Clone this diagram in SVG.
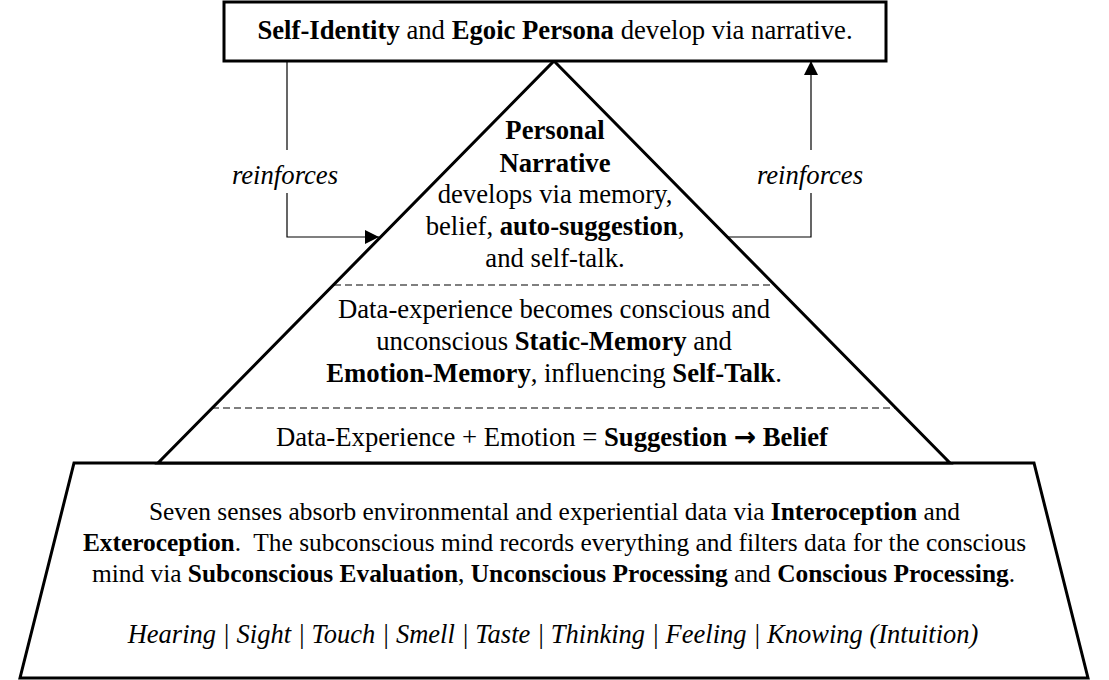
<svg xmlns="http://www.w3.org/2000/svg" width="1109" height="680" viewBox="0 0 1109 680">
<style>
.t{font-family:'Liberation Serif',serif;font-size:26.7px;text-anchor:middle;fill:#000}
.s{font-size:25.4px}
.b{font-weight:bold}
.i{font-style:italic}
.thick{fill:#fff;stroke:#000;stroke-width:3}
.thin{fill:none;stroke:#000;stroke-width:1.2}
.dash{fill:none;stroke:#000;stroke-width:1.2;stroke-dasharray:7 4}
</style>
<defs>
<marker id="ah" viewBox="0 0 10 10" refX="10" refY="5" markerWidth="15" markerHeight="14" markerUnits="userSpaceOnUse" orient="auto">
<path d="M0,0 L10,5 L0,10 Z" fill="#000"/>
</marker>
</defs>
<rect width="1109" height="680" fill="#fff"/>
<g id="base">
<polygon class="thick" points="74,463 1034,463 1088,678 20,678"/>
<text x="554.5" y="520" class="t s">Seven senses absorb environmental and experiential data via <tspan class="b">Interoception</tspan> and</text>
<text x="554.5" y="551" class="t s" xml:space="preserve" style="white-space:pre"><tspan class="b">Exteroception</tspan>.  The subconscious mind records everything and filters data for the conscious</text>
<text x="553.5" y="582" class="t s">mind via <tspan class="b">Subconscious Evaluation</tspan>, <tspan class="b">Unconscious Processing</tspan> and <tspan class="b">Conscious Processing</tspan>.</text>
<text x="553" y="643" class="t i" style="font-size:26.5px">Hearing | Sight | Touch | Smell | Taste | Thinking | Feeling | Knowing (Intuition)</text>
</g>
<g id="pyramid">
<polygon class="thick" points="554,61 950,463 158,463"/>
<line class="dash" x1="334" y1="285" x2="775" y2="285"/>
<line class="dash" x1="212" y1="408" x2="897" y2="408"/>
</g>
<g id="narrative">
<text x="555" y="139" class="t b">Personal</text>
<text x="555" y="172" class="t b">Narrative</text>
<text x="555" y="203" class="t">develops via memory,</text>
<text x="555" y="235" class="t">belief, <tspan class="b">auto-suggestion</tspan>,</text>
<text x="555" y="267" class="t">and self-talk.</text>
</g>
<g id="memory">
<text x="554" y="318" class="t">Data-experience becomes conscious and</text>
<text x="554" y="350" class="t">unconscious <tspan class="b">Static-Memory</tspan> and</text>
<text x="554" y="382" class="t"><tspan class="b">Emotion-Memory</tspan>, influencing <tspan class="b">Self-Talk</tspan>.</text>
</g>
<g id="belief">
<text x="552" y="446" class="t">Data-Experience + Emotion = <tspan class="b">Suggestion </tspan><tspan class="b" style="font-family:'DejaVu Sans',sans-serif">→</tspan><tspan class="b"> Belief</tspan></text>
</g>
<g id="identity">
<rect class="thick" x="224" y="2" width="662" height="59"/>
<text x="555" y="39" class="t"><tspan class="b">Self-Identity</tspan> and <tspan class="b">Egoic Persona</tspan> develop via narrative.</text>
</g>
<g id="connectors">
<path class="thin" d="M287,61 V150"/>
<path class="thin" d="M287,193 V237 H379" marker-end="url(#ah)"/>
<path class="thin" d="M728,237 H811 V193"/>
<path class="thin" d="M811,150 V61" marker-end="url(#ah)"/>
<text x="285" y="184" class="t i">reinforces</text>
<text x="810" y="184" class="t i">reinforces</text>
</g>
</svg>
